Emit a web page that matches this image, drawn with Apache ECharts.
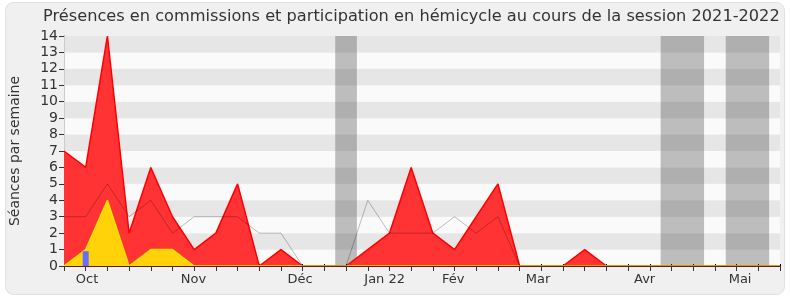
<!DOCTYPE html>
<html>
<head>
<meta charset="utf-8">
<script src="https://cdn.jsdelivr.net/npm/echarts@6/dist/echarts.min.js"></script>
<style>
html,body{margin:0;padding:0;background:#fff;}
#c{width:790px;height:300px;}
</style>
</head>
<body>
<div id="c"></div>
<script>
// Week index 0..33 (one per week of the session)
const weeks = Array.from({length: 34}, (_, i) => i);
const hemicycle = [7,6,14,2,6,3,1,2,5,0,1,0,0,0,1,2,6,2,1,3,5,0,0,0,1,0,0,0,0,0,0,0,0,0];
const commissions = [0,1,4,0,1,1,0,0,0,0,0,0,0,0,0,0,0,0,0,0,0,0,0,0,0,0,0,0,0,0,0,0,0,0];
const mediane = [3,3,5,3,4,2,3,3,3,2,2,0,0,0,4,2,2,2,3,2,3,0,0,0,0,0,0,0,0,0,0,0,0,0];
const questions = [[1, 0.9]];
const vacances = [[12.5, 13.5], [27.5, 29.5], [30.5, 32.5]];
const monthLabels = ['Oct', 'Nov', 'Déc', 'Jan 22', 'Fév', 'Mar', 'Avr', 'Mai'];
const monthPos = [1.06, 5.97, 10.88, 14.78, 17.94, 21.85, 26.76, 31.16];

const font = 'DejaVu Sans';
const chart = echarts.init(document.getElementById('c'), null, {renderer: 'canvas'});
chart.setOption({
  animation: false,
  backgroundColor: '#ffffff',
  textStyle: {fontFamily: font},
  graphic: [{
    type: 'rect', z: -10, silent: true,
    shape: {x: 5.5, y: 2.5, width: 779, height: 292, r: 8},
    style: {fill: '#f0f0f0', stroke: '#e0e0e0', lineWidth: 1}
  }],
  title: {
    text: 'Présences en commissions et participation en hémicycle au cours de la session 2021-2022',
    left: 38, top: 4,
    textStyle: {fontFamily: font, fontSize: 16.2, fontWeight: 'normal', color: '#333'}
  },
  grid: {left: 61, right: 10, top: 36, bottom: 34},
  xAxis: [{
    type: 'value', min: 0, max: 33, interval: 1, z: 10,
    axisLine: {show: true, lineStyle: {color: '#5a1c1c', width: 1}},
    axisTick: {show: true, length: 5, lineStyle: {color: '#333'}, customValues: weeks},
    axisLabel: {
      customValues: monthPos,
      formatter: v => { const i = monthPos.findIndex(p => Math.abs(p - v) < 1e-6); return i >= 0 ? monthLabels[i] : ''; },
      fontFamily: font, fontSize: 13, color: '#333', margin: 7
    },
    splitLine: {show: false}
  }, {
    type: 'value', min: 0, max: 33, interval: 1, position: 'top',
    axisLine: {show: false},
    axisTick: {show: true, length: 2, lineStyle: {color: '#000'}},
    axisLabel: {show: false},
    splitLine: {show: false}
  }],
  yAxis: [{
    type: 'value', min: 0, max: 14, interval: 1,
    name: 'Séances par semaine', nameLocation: 'middle', nameGap: 42,
    nameTextStyle: {fontFamily: font, fontSize: 14, color: '#333'},
    axisLine: {show: true, lineStyle: {color: '#333'}},
    axisTick: {show: true, length: 5, lineStyle: {color: '#333'}},
    axisLabel: {fontFamily: font, fontSize: 14, color: '#333', margin: 6},
    splitLine: {show: false},
    splitArea: {show: true, areaStyle: {color: ['#fafafa', '#e6e6e6']}}
  }, {
    type: 'value', min: 0, max: 14, interval: 1, position: 'right',
    axisLine: {show: true, lineStyle: {color: '#cccccc'}},
    axisTick: {show: false}, axisLabel: {show: false}, splitLine: {show: false}
  }],
  series: [{
    name: 'vacances', type: 'line', data: [], z: 1,
    markArea: {
      silent: true,
      itemStyle: {color: 'rgba(50,50,50,0.3)'},
      data: vacances.map(v => [{xAxis: v[0]}, {xAxis: v[1]}])
    }
  }, {
    name: 'hémicycle', type: 'line', z: 2,
    data: weeks.map((w, i) => [w, hemicycle[i]]),
    symbol: 'none',
    lineStyle: {color: '#ff0000', width: 1.5},
    areaStyle: {color: '#ff3333', opacity: 1}
  }, {
    name: 'commissions', type: 'line', z: 3,
    data: weeks.map((w, i) => [w, commissions[i]]),
    symbol: 'none',
    lineStyle: {color: '#ffe000', width: 1.5},
    areaStyle: {color: '#ffd20a', opacity: 1}
  }, {
    name: 'médiane', type: 'line', z: 4,
    data: weeks.map((w, i) => [w, mediane[i]]),
    symbol: 'none',
    lineStyle: {color: 'rgba(0,0,0,0.25)', width: 1}
  }, {
    name: 'questions', type: 'bar', z: 5,
    data: questions, barWidth: 6,
    itemStyle: {color: '#6b6bff'}
  }]
});
</script>
</body>
</html>
